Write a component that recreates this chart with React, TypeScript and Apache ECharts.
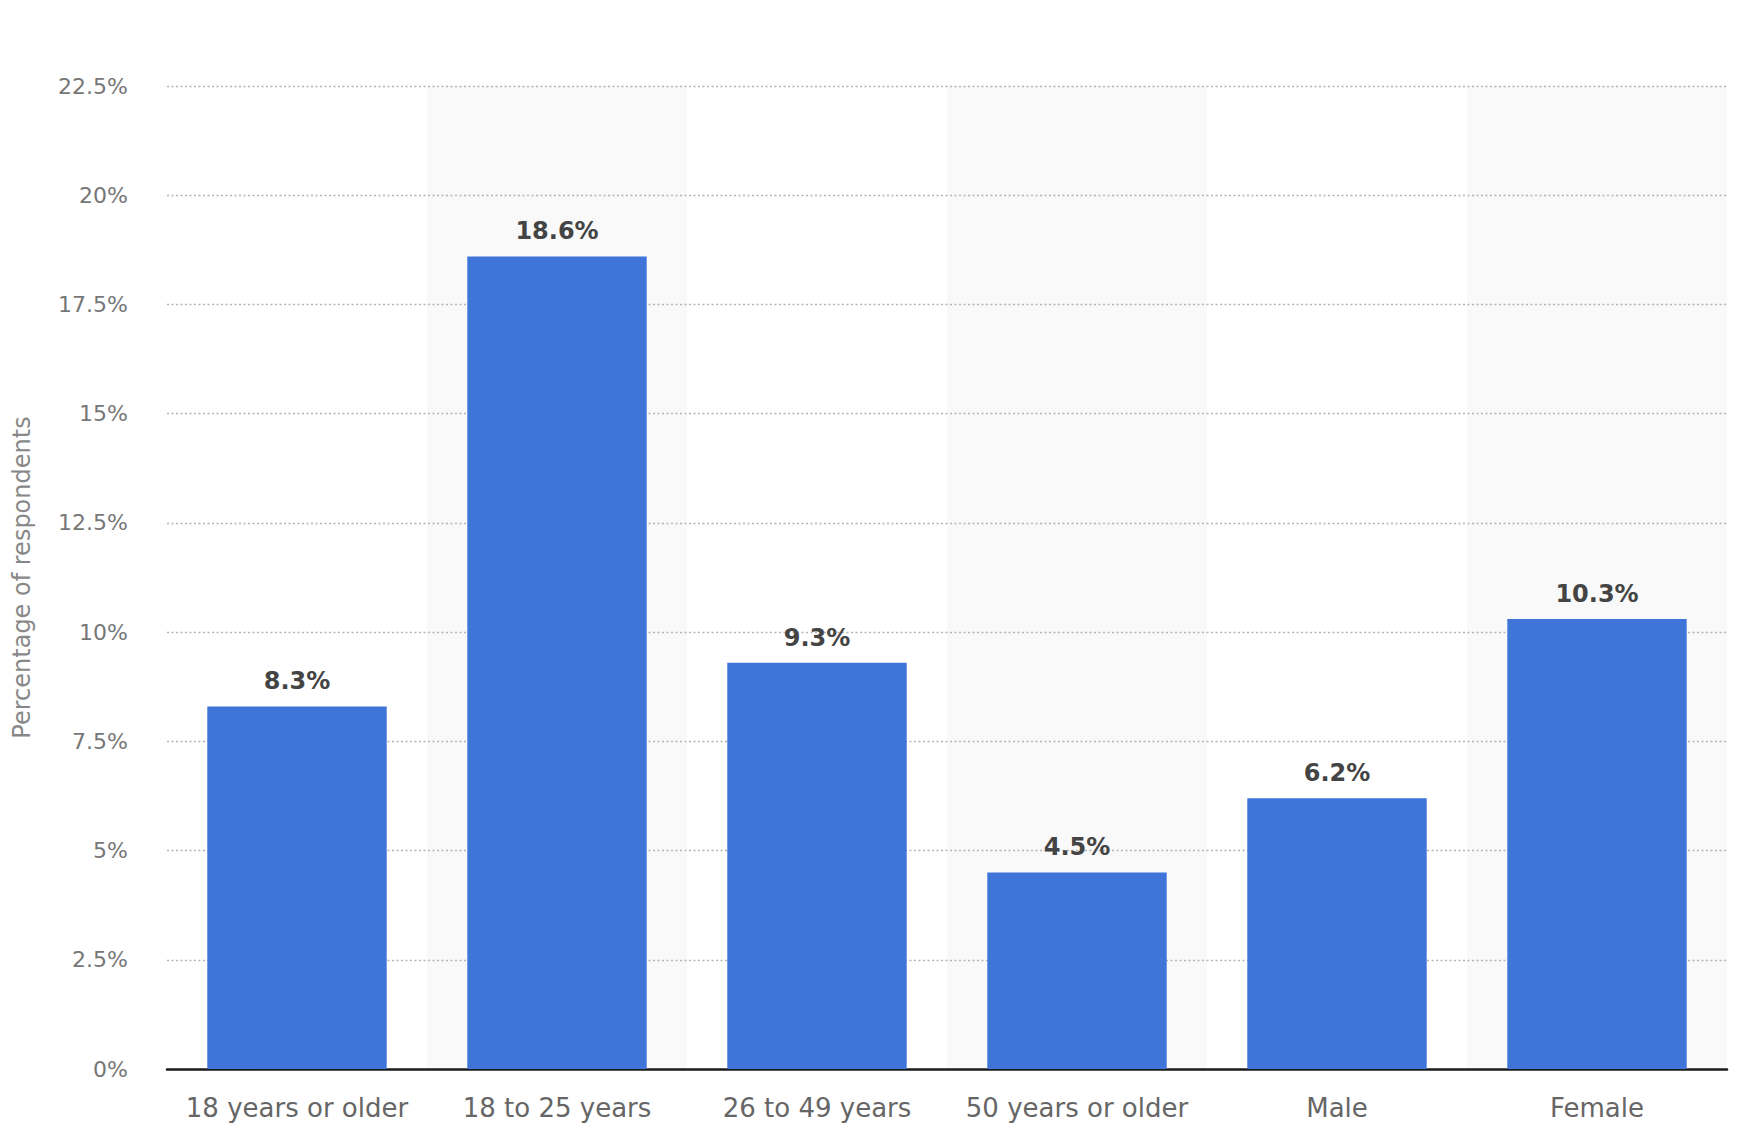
import React, { useEffect, useRef } from "react";
import * as echarts from "echarts";

const categories = ["18 years or older", "18 to 25 years", "26 to 49 years", "50 years or older", "Male", "Female"];
const values = [8.3, 18.6, 9.3, 4.5, 6.2, 10.3];
const yTicks = { min: 0, max: 22.5, interval: 2.5 };
const yAxisName = "Percentage of respondents";

export default function App() {
  const ref = useRef<HTMLDivElement>(null);
  useEffect(() => {
    if (!ref.current) return;
    const chart = echarts.init(ref.current, null, { renderer: "svg" });
    const font = "'DejaVu Sans', 'Noto Sans', sans-serif";
    chart.setOption({
      animation: false,
      backgroundColor: "#ffffff",
      grid: { left: 167, right: 15, top: 86, bottom: 73, containLabel: false, outerBoundsMode: "none" },
      xAxis: {
        type: "category",
        data: categories,
        boundaryGap: true,
        z: 0,
        axisLine: { show: true, lineStyle: { color: "#1a1a1a", width: 2.5 } },
        axisTick: { show: false },
        axisLabel: { color: "#666", fontSize: 26, fontFamily: font, margin: 26, interval: 0 },
        splitArea: { show: true, areaStyle: { color: ["rgba(255,255,255,0)", "#f9f9f9"] } },
        splitLine: { show: false },
      },
      yAxis: {
        type: "value",
        min: yTicks.min,
        max: yTicks.max,
        interval: yTicks.interval,
        z: 1,
        name: yAxisName,
        nameLocation: "middle",
        nameGap: 133,
        nameTextStyle: { color: "#888", fontSize: 24, fontFamily: font },
        axisLine: { show: false },
        axisTick: { show: false },
        axisLabel: {
          color: "#777",
          fontSize: 22,
          fontFamily: font,
          margin: 39,
          formatter: (v: number) => `${v}%`,
        },
        splitLine: { show: true, showMinLine: false, lineStyle: { color: "#b4b4b4", type: [2, 2.5], width: 1.4 } },
      },
      series: [
        {
          type: "bar",
          data: values,
          barWidth: "69%",
          z: 3,
          itemStyle: { color: "#3f74d8" },
          label: {
            show: true,
            position: "top",
            distance: 13,
            formatter: (p: any) => `${p.value}%`,
            color: "#444",
            fontSize: 24,
            fontWeight: "bold",
            fontFamily: font,
          },
        },
      ],
    });
    return () => chart.dispose();
  }, []);
  return <div ref={ref} style={{ position: "fixed", left: 0, top: 0, width: 1742, height: 1142 }} />;
}
